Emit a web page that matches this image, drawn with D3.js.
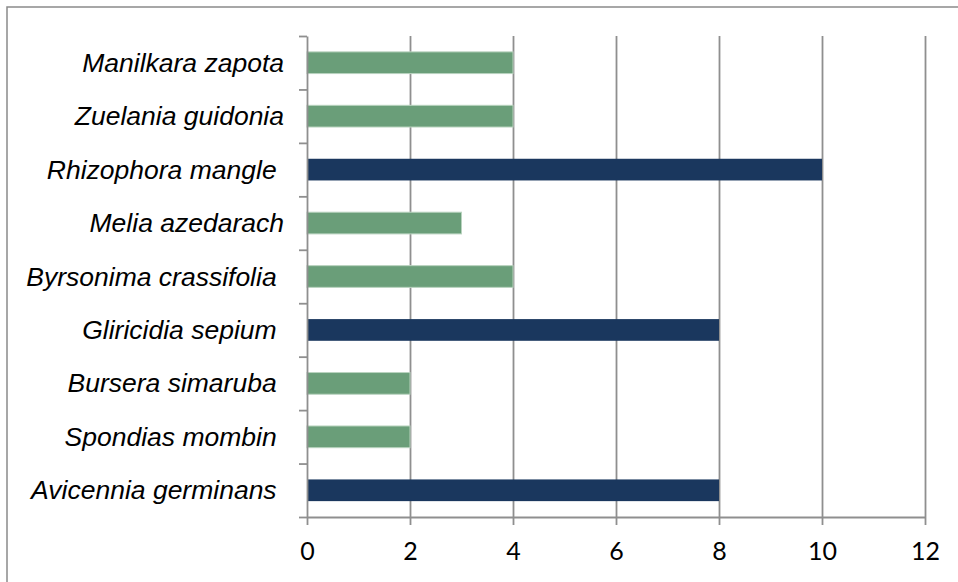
<!DOCTYPE html>
<html>
<head>
<meta charset="utf-8">
<script src="https://cdn.jsdelivr.net/npm/d3@7"></script>
<style>
  html, body { margin: 0; padding: 0; background: #fff; }
  svg { display: block; }
  .cat-label { font-family: "Liberation Sans", Arial, sans-serif; font-style: italic; font-size: 26.5px; fill: #000; white-space: pre; }
  .x-axis text { font-family: Lato, "Open Sans", sans-serif; font-size: 25px; fill: #000; }
</style>
</head>
<body>
<svg id="chart" width="958" height="582"></svg>
<script>
// species, top to bottom (some labels carry a trailing space, as in the source)
const species = [
  'Manilkara zapota',
  'Zuelania guidonia',
  'Rhizophora mangle ',
  'Melia azedarach',
  'Byrsonima crassifolia ',
  'Gliricidia sepium ',
  'Bursera simaruba ',
  'Spondias mombin ',
  'Avicennia germinans '
];
const counts = [4, 4, 10, 3, 4, 8, 2, 2, 8];
// species drawn in the dark colour
const darkSpecies = ['Rhizophora mangle ', 'Gliricidia sepium ', 'Avicennia germinans '];
const xTicks = [0, 2, 4, 6, 8, 10, 12];

const dims = {
  left: 307,
  right: 925,
  top: 36,
  bottom: 517
};

const svg = d3.select('#chart');

// outer frame (its right and bottom edges fall outside the picture)
svg.append('rect')
  .attr('x', 7).attr('y', 7)
  .attr('width', 1000).attr('height', 1000)
  .attr('fill', 'none')
  .attr('stroke', '#8a8a8a')
  .attr('stroke-width', 1.5);

const x = d3.scaleLinear()
  .domain([0, 12])
  .range([dims.left, dims.right]);

const y = d3.scaleBand()
  .domain(species)
  .range([dims.top, dims.bottom])
  .paddingInner(0.594)
  .paddingOuter(0.297);

// boundaries between categories, for the left tick marks
const yEdge = d3.scaleLinear()
  .domain([0, species.length])
  .range([dims.top, dims.bottom]);

// vertical gridlines
svg.append('g')
  .attr('class', 'grid')
  .attr('transform', `translate(0, ${dims.bottom})`)
  .call(d3.axisBottom(x).tickValues(xTicks.slice(1)).tickSize(-(dims.bottom - dims.top)).tickFormat(''))
  .call(g => g.select('.domain').remove())
  .call(g => g.selectAll('line').attr('stroke', '#8f8f8f').attr('stroke-width', 1.8));

// bars
svg.append('g')
  .selectAll('rect')
  .data(species)
  .join('rect')
  .attr('x', x(0))
  .attr('y', d => y(d))
  .attr('width', (d, i) => x(counts[i]) - x(0))
  .attr('height', y.bandwidth())
  .attr('fill', d => darkSpecies.includes(d) ? '#1a375e' : '#6a9e79')
  .attr('stroke', d => darkSpecies.includes(d) ? 'none' : '#b9d3bf')
  .attr('stroke-width', 1);

// y axis with ticks at category boundaries
svg.append('g')
  .attr('class', 'y-axis')
  .attr('transform', `translate(${dims.left}, 0)`)
  .call(d3.axisLeft(yEdge).tickValues(d3.range(species.length + 1)).tickSize(8).tickSizeOuter(0).tickFormat(''))
  .call(g => g.selectAll('line, .domain').attr('stroke', '#8f8f8f').attr('stroke-width', 1.8));

// x axis
svg.append('g')
  .attr('class', 'x-axis')
  .attr('transform', `translate(0, ${dims.bottom})`)
  .call(d3.axisBottom(x).tickValues(xTicks).tickSize(8).tickSizeOuter(0).tickPadding(17))
  .call(g => g.selectAll('line, .domain').attr('stroke', '#8f8f8f').attr('stroke-width', 1.8))
  .call(g => g.selectAll('text').attr('font-family', null).attr('font-size', null));

// category labels
svg.append('g')
  .selectAll('text')
  .data(species)
  .join('text')
  .attr('class', 'cat-label')
  .attr('x', 284)
  .attr('y', d => y(d) + y.bandwidth() / 2 + 9)
  .attr('text-anchor', 'end')
  .text(d => d);
</script>
</body>
</html>
